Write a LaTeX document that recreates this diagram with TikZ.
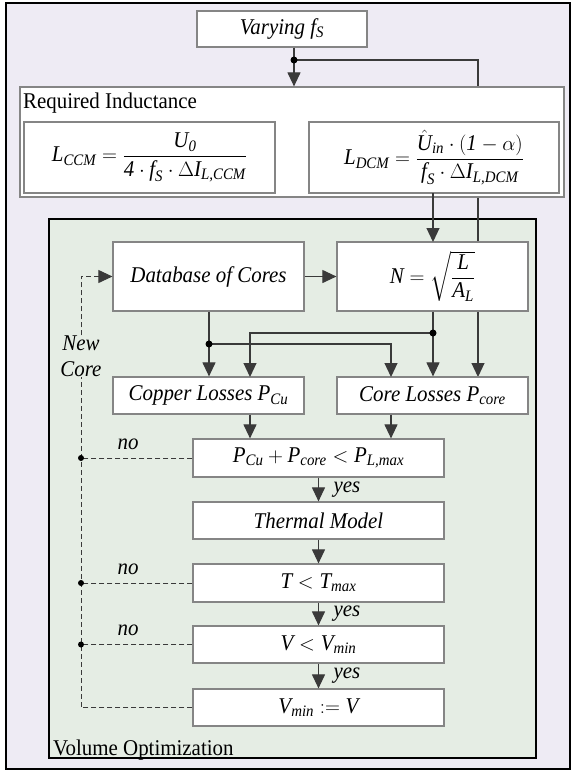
\documentclass[tikz,border=0pt]{standalone}
\usepackage{fontspec}
\setmainfont{Liberation Serif}[FakeStretch=0.93]
\usepackage{amsmath}
\usetikzlibrary{arrows.meta}
\DeclareMathSizes{22.5}{22.5}{16}{12}
\newcommand{\mi}[1]{\text{\itshape #1}}
\newcommand{\fs}{\fontsize{22.5}{27}\selectfont}
\definecolor{lav}{HTML}{EEEBF4}
\definecolor{grn}{HTML}{E5EDE4}
\definecolor{boxgray}{HTML}{858585}
\definecolor{lineg}{HTML}{3A3A3A}
\begin{document}
\begin{tikzpicture}[x=1pt,y=-1pt,
  every node/.style={font=\fs},
  panel/.style={draw=black, line width=2pt, inner sep=0pt},
  box/.style={draw=boxgray, line width=1.2pt, fill=white, inner sep=0pt, font=\fs\itshape},
  con/.style={draw=lineg, line width=1.1pt},
  arr/.style={con, -{Triangle[width=13pt,length=14pt]}},
  dashln/.style={draw=lineg, line width=1pt, dash pattern=on 5pt off 3pt},
  dashar/.style={dashln, -{Triangle[width=13pt,length=14pt]}},
  jdot/.style={circle, fill=black, inner sep=0pt, minimum size=7pt},
  lbl/.style={font=\fs\itshape, inner sep=0pt}
]
\useasboundingbox (0,0) rectangle (572,772);
% panels
\node[panel, fill=lav, minimum width=564pt, minimum height=766pt] (outer) at (288,386) {};
\node[panel, fill=grn, minimum width=487pt, minimum height=539pt] (vo) at (292.5,488.5) {};
\node[anchor=base west, inner sep=0pt] (volbl) at (53,755) {Volume Optimization};

% coordinates for the long line
\coordinate (d1) at (294,60);
\coordinate (c1) at (478,60);
\coordinate (c1b) at (478,377);

% long line behind boxes
\draw[arr] (d1) -- (c1) -- (c1b);

% top boxes
\node[box, minimum width=170pt, minimum height=36pt] (var) at (282,29) {Varying \mi{f}\textsubscript{\itshape S}};
\node[box, minimum width=544pt, minimum height=110pt] (ri) at (292,142) {};
\node[anchor=base west, inner sep=0pt] (rilbl) at (23,108) {Required Inductance};
\node[box, minimum width=251pt, minimum height=71pt] (ccm) at (149.5,157.5)
  {$\mi{L}_{\mi{CCM}} = \dfrac{\mi{U}_{\mi{0}}}{\mi{4}\cdot \mi{f}_{\mi{S}}\cdot \Delta \mi{I}_{\mi{L,CCM}}}$};
\node[box, minimum width=250pt, minimum height=71pt] (dcm) at (434,157.5)
  {$\mi{L}_{\mi{DCM}} = \dfrac{\hat{\mi{U}}_{\mi{in}}\cdot\left(\mi{1}-\alpha\right)}{\mi{f}_{\mi{S}}\cdot\Delta\mi{I}_{\mi{L,DCM}}}$};

% top connectors
\draw[con] (var.south -| d1) -- (d1);
\draw[arr] (d1) -- (d1 |- ri.north);
\node[jdot] at (d1) {};

% optimization boxes
\node[box, minimum width=191pt, minimum height=69pt] (db) at (208.5,276.5) {Database of Cores};
\node[box, minimum width=191pt, minimum height=69pt] (nn) at (432.5,276.5)
  {$\mi{N} = \sqrt{\dfrac{\mi{L}}{\mi{A}_{\mi{L}}}}$};
\node[box, minimum width=191pt, minimum height=37pt] (cu) at (208.5,395.5) {Copper Losses $\mi{P}_{\mi{Cu}}$};
\node[box, minimum width=191pt, minimum height=37pt] (co) at (432.5,395.5) {Core Losses $\mi{P}_{\mi{core}}$};
\node[box, minimum width=251pt, minimum height=38pt] (pl) at (318.5,458) {$\mi{P}_{\mi{Cu}} + \mi{P}_{\mi{core}} < \mi{P}_{\mi{L,max}}$};
\node[box, minimum width=251pt, minimum height=37pt] (th) at (318.5,520.5) {Thermal Model};
\node[box, minimum width=251pt, minimum height=38pt] (tt) at (318.5,583) {$\mi{T} < \mi{T}_{\mi{max}}$};
\node[box, minimum width=251pt, minimum height=37pt] (vv) at (318.5,644.5) {$\mi{V} < \mi{V}_{\mi{min}}$};
\node[box, minimum width=251pt, minimum height=37pt] (vm) at (318.5,707.5) {$\mi{V}_{\mi{min}} := \mi{V}$};

% junctions
\coordinate (d2) at (209,344);
\coordinate (d3) at (433,333);

% connectors
\draw[arr] (433,193) -- (433,242);
\draw[arr] (db.east) -- (nn.west);
\draw[arr] (db.south -| d2) -- (d2 |- cu.north);
\draw[arr] (d2) -- (391,344) -- (391,377);
\draw[arr] (nn.south -| d3) -- (d3 |- co.north);
\draw[arr] (d3) -- (250,333) -- (250,377);
\node[jdot] at (d2) {};
\node[jdot] at (d3) {};
\draw[arr] (cu.south -| 250,0) -- (pl.north -| 250,0);
\draw[arr] (co.south -| 391,0) -- (pl.north -| 391,0);
\draw[arr] (pl.south -| 318.5,0) -- (th.north -| 318.5,0);
\draw[arr] (th.south -| 318.5,0) -- (tt.north -| 318.5,0);
\draw[arr] (tt.south -| 318.5,0) -- (vv.north -| 318.5,0);
\draw[arr] (vv.south -| 318.5,0) -- (vm.north -| 318.5,0);
\node[lbl] (y1) at (347,490) {yes};
\node[lbl] (y2) at (347,614) {yes};
\node[lbl] (y3) at (347,676) {yes};

% feedback dashed lines
\node[lbl, align=center, font=\fontsize{22.5}{26}\selectfont\itshape] (nc) at (81,356) {New\\Core};
\coordinate (fb) at (81,707.5);
\draw[dashln] (vm.west) -- (fb) -- (nc.south);
\draw[dashar] (nc.north) -- (81,276.5) -- (db.west);
\coordinate (n1) at (81,458);
\coordinate (n2) at (81,583);
\coordinate (n3) at (81,644.5);
\draw[dashln] (pl.west) -- (n1);
\draw[dashln] (tt.west) -- (n2);
\draw[dashln] (vv.west) -- (n3);
\node[jdot, minimum size=6pt] at (n1) {};
\node[jdot, minimum size=6pt] at (n2) {};
\node[jdot, minimum size=6pt] at (n3) {};
\node[lbl] (no1) at (128,444) {no};
\node[lbl] (no2) at (128,569) {no};
\node[lbl] (no3) at (128,630) {no};
\end{tikzpicture}
\end{document}
